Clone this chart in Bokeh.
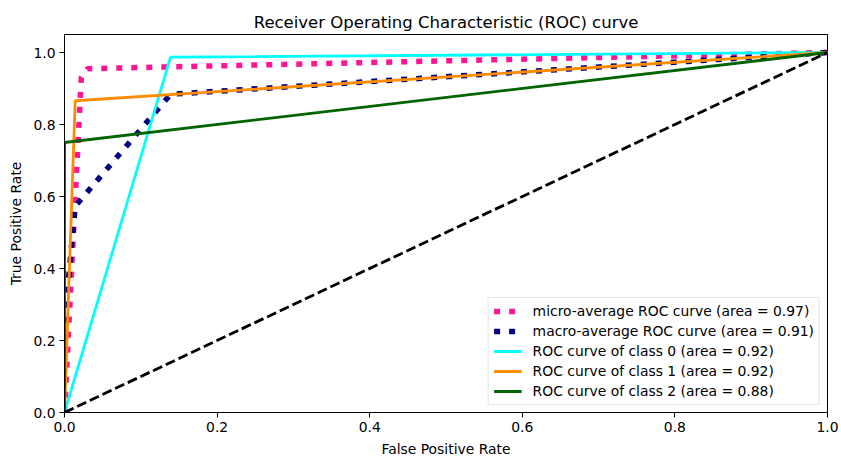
from bokeh.plotting import figure
from bokeh.models import Legend, LegendItem, Range1d, FixedTicker, NumeralTickFormatter
from bokeh.embed import file_html
from bokeh.resources import INLINE

# ---- data ----
fpr_micro = [0.0, 0.022, 0.03, 1.0]
tpr_micro = [0.0, 0.93, 0.955, 1.0]
fpr_macro = [0.0, 0.014, 0.139, 1.0]
tpr_macro = [0.25, 0.573, 0.884, 1.0]
fpr_c0 = [0.0, 0.139, 1.0]
tpr_c0 = [0.0, 0.987, 1.0]
fpr_c1 = [0.0, 0.014, 1.0]
tpr_c1 = [0.0, 0.866, 1.0]
fpr_c2 = [0.0, 0.0, 1.0]
tpr_c2 = [0.0, 0.75, 1.0]
diag_x = [0.0, 1.0]
diag_y = [0.0, 1.0]
labels = [
    "micro-average ROC curve (area = 0.97)",
    "macro-average ROC curve (area = 0.91)",
    "ROC curve of class 0 (area = 0.92)",
    "ROC curve of class 1 (area = 0.92)",
    "ROC curve of class 2 (area = 0.88)",
]
ticks = [0.0, 0.2, 0.4, 0.6, 0.8, 1.0]

FONT = "DejaVu Sans"

p = figure(width=841, height=459, output_backend="svg", toolbar_location=None,
           x_range=Range1d(0.0, 1.0), y_range=Range1d(0.0, 1.05),
           min_border_left=64, min_border_right=14, min_border_top=34,
           min_border_bottom=45)
p.title.text = "Receiver Operating Characteristic (ROC) curve"
p.title.align = "center"
p.title.text_font = FONT
p.title.text_font_size = "16.5px"
p.title.text_font_style = "normal"
p.title.text_color = "black"
p.title.offset = 0
p.title.standoff = 6

p.xgrid.visible = False
p.ygrid.visible = False
p.outline_line_color = "black"
p.outline_line_width = 1
p.outline_line_alpha = 1.0

for ax in (p.xaxis[0], p.yaxis[0]):
    ax.ticker = FixedTicker(ticks=ticks)
    ax.formatter = NumeralTickFormatter(format="0.0")
    ax.major_label_text_font = FONT
    ax.major_label_text_font_size = "13.9px"
    ax.major_label_text_color = "black"
    ax.axis_label_text_font = FONT
    ax.axis_label_text_font_size = "13.9px"
    ax.axis_label_text_font_style = "normal"
    ax.axis_label_text_color = "black"
    ax.major_tick_in = 0
    ax.major_tick_out = 5
    ax.minor_tick_in = 0
    ax.minor_tick_out = 0
    ax.axis_line_color = "black"
    ax.major_label_standoff = 4
    ax.axis_label_standoff = 6
p.xaxis.axis_label = "False Positive Rate"
p.yaxis.axis_label = "True Positive Rate"

r_micro = p.line(fpr_micro, tpr_micro, line_color="deeppink", line_width=5.5,
                 line_dash="6 9", line_cap="butt")
r_macro = p.line(fpr_macro, tpr_macro, line_color="navy", line_width=5.5,
                 line_dash="6 9", line_cap="butt")
r_c0 = p.line(fpr_c0, tpr_c0, line_color="aqua", line_width=2.8)
r_c1 = p.line(fpr_c1, tpr_c1, line_color="darkorange", line_width=2.8)
r_c2 = p.line(fpr_c2, tpr_c2, line_color="darkgreen", line_width=2.8)
p.line(diag_x, diag_y, line_color="black", line_width=2.8, line_dash="10 4")

legend = Legend(items=[
    LegendItem(label=labels[0], renderers=[r_micro]),
    LegendItem(label=labels[1], renderers=[r_macro]),
    LegendItem(label=labels[2], renderers=[r_c0]),
    LegendItem(label=labels[3], renderers=[r_c1]),
    LegendItem(label=labels[4], renderers=[r_c2]),
], location="bottom_right")
legend.label_text_font = FONT
legend.label_text_font_size = "13.9px"
legend.label_text_color = "black"
legend.glyph_width = 28
legend.glyph_height = 14
legend.label_height = 14
legend.spacing = 4
legend.padding = 5
legend.margin = 7
legend.label_standoff = 11
legend.border_line_color = "#cccccc"
legend.border_line_width = 1
legend.background_fill_color = "white"
legend.background_fill_alpha = 0.8
p.add_layout(legend, "center")

open("out.html", "w").write(file_html(p, INLINE))
